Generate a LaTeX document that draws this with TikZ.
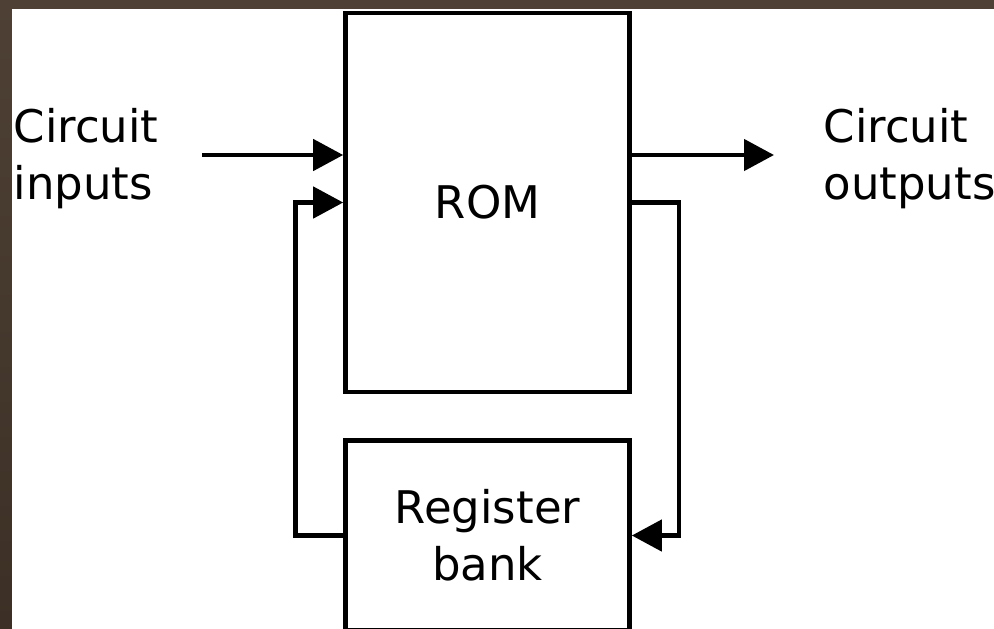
\documentclass[tikz,border=0pt]{standalone}
\usepackage{fontspec}
\setmainfont{DejaVu Sans}
\usepackage{tikz}
\usetikzlibrary{arrows.meta}
\definecolor{framebrown}{RGB}{78,64,52}
\definecolor{framedark}{RGB}{60,48,38}
\tikzset{
  block/.style={draw, line width=0.046cm, minimum width=2.84cm, inner sep=0pt},
  arr/.style={line width=0.046cm, -{Triangle[length=0.3cm,width=0.31cm]}},
  lbl/.style={inner sep=0pt, align=left, anchor=west}
}
\begin{document}
\begin{tikzpicture}[font=\fontsize{12.8}{16.2}\selectfont]
\useasboundingbox (0,0) rectangle (9.94,6.28);
\clip (0,0) rectangle (9.94,6.28);
\fill[white] (0,0) rectangle (9.94,6.28);
% dark frame round the cut-out
\fill[framebrown] (0,6.19) rectangle (9.94,6.28);
\shade[top color=framebrown, bottom color=framedark] (0,0) rectangle (0.12,6.28);
\coordinate (inp) at (2.02,4.73);
\coordinate (outp) at (7.74,4.73);
% draws blocks
\node[block, minimum height=3.79cm] (rom) at (4.875,4.255) {ROM};
\node[block, align=center, minimum height=1.9cm] (reg) at (4.875,0.925) {Register\\bank};
% labels
\node[lbl] (inlabel) at (0.13,4.69) {Circuit\\inputs};
\node[lbl] (outlabel) at (8.23,4.69) {Circuit\\outputs};
% draws connectors
\draw[arr] (inp) -- (inp -| rom.west);
\draw[arr] (rom.east |- outp) -- (outp);
\draw[arr] (reg.west) -- ++(-0.475,0) |- (rom.west);
\draw[arr] (rom.east) -- ++(0.47,0) |- (reg.east);
\end{tikzpicture}
\end{document}
